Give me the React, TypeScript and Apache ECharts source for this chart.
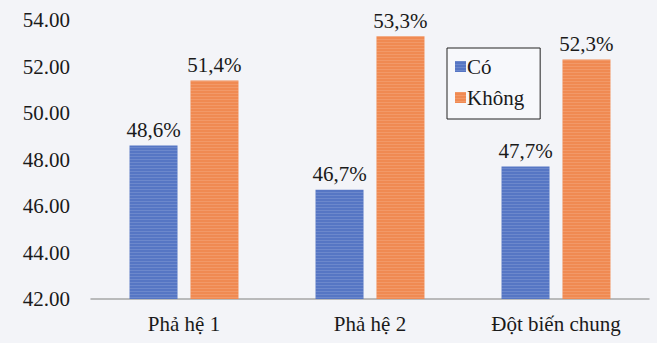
import React, { useEffect, useRef } from "react";
import * as echarts from "echarts";

const categories = ["Phả hệ 1", "Phả hệ 2", "Đột biến chung"];
const coValues = [48.6, 46.7, 47.7];
const khongValues = [51.4, 53.3, 52.3];
const seriesNames = ["Có", "Không"];
const yMin = 42;
const yMax = 54;
const yStep = 2;

const FONT = "Liberation Serif";

export default function App() {
  const ref = useRef<HTMLDivElement>(null);
  useEffect(() => {
    if (!ref.current) return;
    const chart = echarts.init(ref.current, null, { renderer: "svg" });
    const labelFmt = (p: any) => p.value.toFixed(1).replace(".", ",") + "%";
    const stripe = {
      symbol: "rect",
      symbolSize: 1,
      dashArrayX: [[1, 0]],
      dashArrayY: [1, 2],
      rotation: 0,
      color: "rgba(255,255,255,0.13)",
    };
    chart.setOption({
      animation: false,
      backgroundColor: "#f3f4f8",
      textStyle: { fontFamily: FONT },
      aria: { enabled: false },
      grid: { left: 91, right: 8, top: 20, bottom: 44 },
      legend: {
        orient: "vertical",
        left: 447,
        top: 48,
        itemWidth: 11,
        itemHeight: 11,
        itemGap: 10,
        icon: "rect",
        borderColor: "#222",
        borderWidth: 1,
        padding: [8, 16, 11, 8],
        backgroundColor: "#f7f8fb",
        textStyle: { fontFamily: FONT, fontSize: 21, color: "#1a1a1a", padding: [0, 0, 0, -4] },
        data: seriesNames,
      },
      xAxis: {
        type: "category",
        data: categories,
        axisLine: { show: true, lineStyle: { color: "#a6a6a6", width: 1.5 } },
        axisTick: { show: false },
        axisLabel: { fontFamily: FONT, fontSize: 21, color: "#1a1a1a", margin: 14 },
      },
      yAxis: {
        type: "value",
        min: yMin,
        max: yMax,
        interval: yStep,
        splitLine: { show: false },
        axisLine: { show: false },
        axisTick: { show: false },
        axisLabel: {
          fontFamily: FONT,
          fontSize: 21,
          color: "#1a1a1a",
          margin: 21,
          formatter: (v: number) => v.toFixed(2),
        },
      },
      series: [
        {
          name: seriesNames[0],
          type: "bar",
          data: coValues,
          barWidth: 48,
          barGap: "27%",
          itemStyle: { color: "#5676c4", decal: stripe },
          label: {
            show: true,
            position: "top",
            distance: 5,
            fontFamily: FONT,
            fontSize: 21,
            color: "#1a1a1a",
            formatter: labelFmt,
          },
        },
        {
          name: seriesNames[1],
          type: "bar",
          data: khongValues,
          barWidth: 48,
          itemStyle: { color: "#f08a52", decal: stripe },
          label: {
            show: true,
            position: "top",
            distance: 5,
            fontFamily: FONT,
            fontSize: 21,
            color: "#1a1a1a",
            formatter: labelFmt,
          },
        },
      ],
    });
    return () => chart.dispose();
  }, []);
  return <div ref={ref} style={{ width: 657, height: 343, position: "absolute", left: 0, top: 0 }} />;
}
